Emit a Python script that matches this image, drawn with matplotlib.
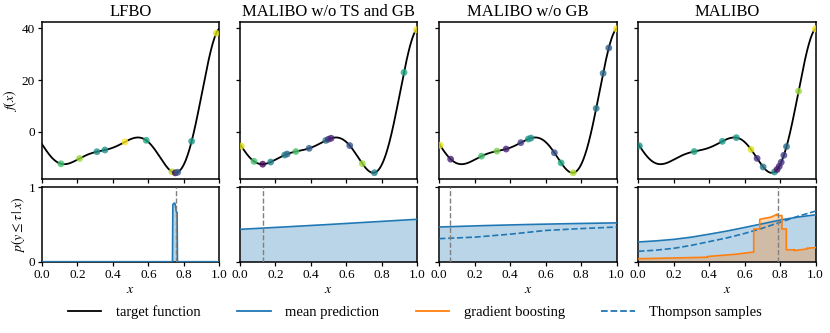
import numpy as np
import matplotlib
matplotlib.use("Agg")
import matplotlib.pyplot as plt
from matplotlib.lines import Line2D

plt.rcParams['font.family'] = ['Liberation Serif', 'DejaVu Serif']
plt.rcParams['mathtext.fontset'] = 'stix'

# ---------------- data ----------------
titles = ["LFBO", "MALIBO w/o TS and GB", "MALIBO w/o GB", "MALIBO"]

# target function: scaled Forrester-type function a*(6x-2)^2 sin(12x-4) + c*x + b
fn_a, fn_c, fn_b = 2.40, 14.07, -12.08

# observed points (x) and their colour value (viridis) per panel
obs_x = [
    [0.107, 0.212, 0.310, 0.355, 0.468, 0.588, 0.733, 0.752, 0.765, 0.844, 0.983],
    [0.007, 0.079, 0.128, 0.173, 0.252, 0.266, 0.315, 0.390, 0.484, 0.499, 0.514,
     0.619, 0.690, 0.758, 0.925, 0.994],
    [0.004, 0.064, 0.238, 0.325, 0.377, 0.460, 0.502, 0.517, 0.649, 0.687, 0.755,
     0.885, 0.924, 0.956, 0.998],
    [0.006, 0.315, 0.474, 0.553, 0.636, 0.670, 0.704, 0.768, 0.783, 0.795, 0.806,
     0.821, 0.836, 0.904, 0.998],
]
obs_c = [
    [0.70, 0.85, 0.50, 0.50, 1.00, 0.60, 0.90, 0.00, 0.30, 0.55, 0.95],
    [0.95, 0.70, 0.02, 0.45, 0.45, 0.35, 0.72, 0.30, 0.40, 0.15, 0.10,
     0.25, 0.85, 0.45, 0.60, 1.00],
    [0.95, 0.10, 0.70, 0.80, 0.10, 0.20, 0.55, 0.50, 0.25, 0.60, 0.88,
     0.40, 0.35, 0.30, 1.00],
    [0.50, 0.60, 0.55, 0.55, 0.95, 0.15, 0.40, 0.50, 0.05, 0.10, 0.15,
     0.20, 0.35, 0.85, 1.00],
]

# next query location (dashed grey line)
next_x = [0.756, 0.131, 0.060, 0.787]

# mean prediction per panel
mean_x = [
    [0.0, 0.736, 0.738, 0.748, 0.752, 0.758, 0.762, 0.764, 1.0],
    [0.0, 0.25, 0.5, 0.75, 1.0],
    [0.0, 0.25, 0.5, 0.75, 1.0],
    [0.0, 0.1, 0.2, 0.3, 0.4, 0.5, 0.6, 0.7, 0.8, 0.9, 1.0],
]
mean_p = [
    [0.0, 0.0, 0.77, 0.79, 0.76, 0.67, 0.66, 0.0, 0.0],
    [0.435, 0.467, 0.500, 0.535, 0.570],
    [0.466, 0.485, 0.500, 0.512, 0.522],
    [0.265, 0.280, 0.300, 0.330, 0.370, 0.412, 0.460, 0.510, 0.560, 0.600, 0.630],
]

# Thompson samples (panels 3 and 4)
ts_x = [None, None,
        [0.0, 0.2, 0.4, 0.6, 0.8, 1.0],
        [0.0, 0.1, 0.2, 0.3, 0.4, 0.5, 0.6, 0.7, 0.8, 0.9, 1.0]]
ts_p = [None, None,
        [0.31, 0.33, 0.37, 0.42, 0.445, 0.466],
        [0.14, 0.155, 0.18, 0.22, 0.27, 0.32, 0.38, 0.45, 0.53, 0.61, 0.68]]

# gradient boosting (panel 4)
gb_x = [0.0, 0.2, 0.39, 0.39, 0.55, 0.651, 0.651, 0.685, 0.685, 0.75, 0.785, 0.785,
        0.81, 0.81, 0.835, 0.835, 0.88, 0.88, 0.95, 0.95, 1.0]
gb_p = [0.04, 0.05, 0.06, 0.07, 0.10, 0.13, 0.44, 0.44, 0.57, 0.60, 0.64, 0.62,
        0.62, 0.44, 0.44, 0.16, 0.16, 0.15, 0.17, 0.18, 0.19]


def target(x):
    x = np.asarray(x)
    return fn_a * (6 * x - 2) ** 2 * np.sin(12 * x - 4) + fn_c * x + fn_b


# ---------------- figure ----------------
W, H = 830, 333
fig = plt.figure(figsize=(W / 100, H / 100), dpi=100)

col_left = [42, 240, 439.3, 638.3]
ax_w = 177.3
top_y0, top_y1 = 22, 179
bot_y0, bot_y1 = 187.3, 261.7

xx = np.linspace(0, 1, 400)
cmap = plt.get_cmap('viridis')
tick_fs = 9.5

for i in range(4):
    axt = fig.add_axes([col_left[i] / W, 1 - top_y1 / H, ax_w / W, (top_y1 - top_y0) / H])
    axb = fig.add_axes([col_left[i] / W, 1 - bot_y1 / H, ax_w / W, (bot_y1 - bot_y0) / H])

    # top: target + observations
    axt.plot(xx, target(xx), color='black', lw=1.3, zorder=2)
    ox = np.array(obs_x[i])
    axt.scatter(ox, target(ox), c=cmap(np.array(obs_c[i])), s=24, alpha=0.8,
                edgecolors='none', zorder=3)
    axt.set_xlim(0, 1)
    axt.set_ylim(-18.3, 42.5)
    axt.set_yticks([0, 20, 40])
    axt.set_xticks([0, 0.2, 0.4, 0.6, 0.8, 1.0])
    axt.set_xticklabels([])
    axt.set_title(titles[i], fontsize=12, pad=4)
    if i == 0:
        axt.set_ylabel('$f(x)$', fontsize=10, labelpad=2)
    else:
        axt.set_yticklabels([])

    # bottom: class probability
    axb.plot(mean_x[i], mean_p[i], color='C0', lw=1.2, zorder=3)
    axb.fill_between(mean_x[i], 0, mean_p[i], color='C0', alpha=0.3, lw=0, zorder=1)
    if ts_x[i] is not None:
        axb.plot(ts_x[i], ts_p[i], color='C0', lw=1.2, ls='--', zorder=3)
    if i == 3:
        axb.plot(gb_x, gb_p, color='C1', lw=1.2, zorder=4)
        axb.fill_between(gb_x, 0, gb_p, color='C1', alpha=0.3, lw=0, zorder=2)
    axb.axvline(next_x[i], color='grey', ls='--', lw=1.0, zorder=5)
    axb.set_xlim(0, 1)
    axb.set_ylim(0, 1)
    axb.set_yticks([0, 1])
    axb.set_xticks([0, 0.2, 0.4, 0.6, 0.8, 1.0])
    axb.set_xlabel('$x$', fontsize=10, labelpad=2)
    if i == 0:
        axb.set_ylabel(r'$p(y \leq \tau\,|\,x)$', fontsize=10, labelpad=1)
    else:
        axb.set_yticklabels([])

    for ax in (axt, axb):
        ax.tick_params(labelsize=tick_fs, length=3, width=0.9, pad=2)
        for s in ax.spines.values():
            s.set_linewidth(1.1)

handles = [
    Line2D([], [], color='black', lw=1.3),
    Line2D([], [], color='C0', lw=1.3),
    Line2D([], [], color='C1', lw=1.3),
    Line2D([], [], color='C0', lw=1.3, ls='--'),
]
labels = ["target function", "mean prediction", "gradient boosting", "Thompson samples"]
fig.legend(handles, labels, loc='center', bbox_to_anchor=(0.5, 1 - 312 / H), ncol=4,
           frameon=False, fontsize=10.5, handlelength=2.3, columnspacing=2.5,
           handletextpad=1.0)

fig.savefig('out.png', dpi=100)
